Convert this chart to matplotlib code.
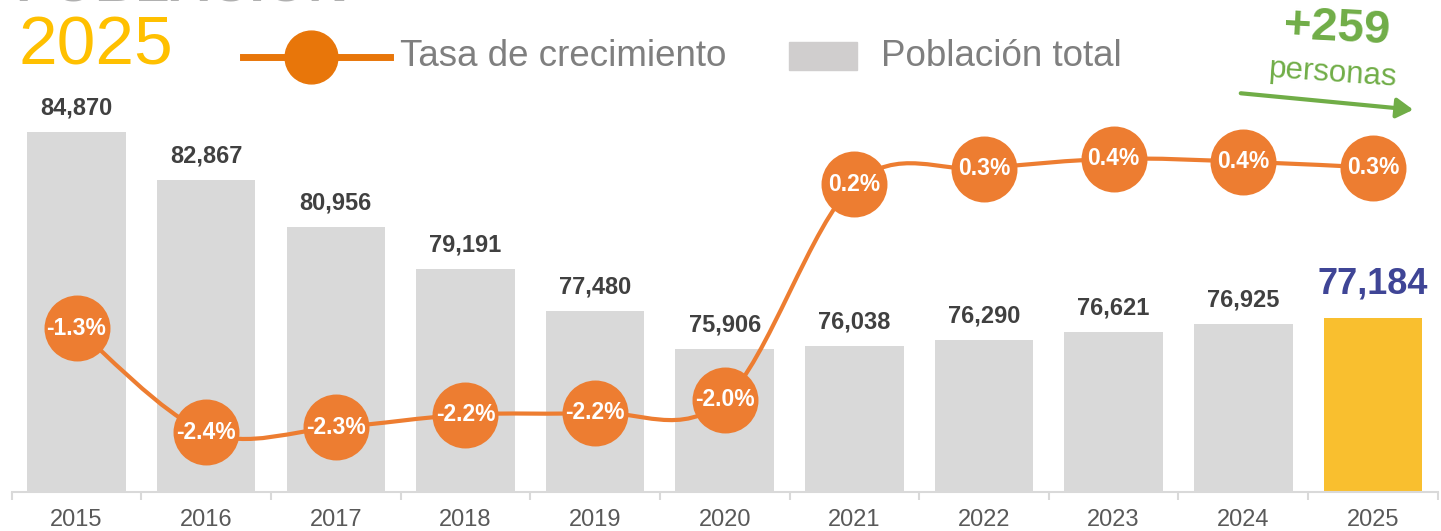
import numpy as np
import matplotlib.pyplot as plt
from matplotlib.path import Path
from matplotlib.patches import PathPatch, Rectangle, FancyArrowPatch
from matplotlib.lines import Line2D

plt.rcParams['font.family'] = ['Liberation Sans', 'DejaVu Sans']

years = ["2015", "2016", "2017", "2018", "2019", "2020",
         "2021", "2022", "2023", "2024", "2025"]
population = [84870, 82867, 80956, 79191, 77480, 75906,
              76038, 76290, 76621, 76925, 77184]
pop_labels = ["84,870", "82,867", "80,956", "79,191", "77,480", "75,906",
              "76,038", "76,290", "76,621", "76,925", "77,184"]
growth = [-1.30, -2.36, -2.31, -2.18, -2.16, -2.03, 0.17, 0.33, 0.43, 0.40, 0.34]
growth_labels = ["-1.3%", "-2.4%", "-2.3%", "-2.2%", "-2.2%", "-2.0%",
                 "0.2%", "0.3%", "0.4%", "0.4%", "0.3%"]

W, H = 1441, 531
fig = plt.figure(figsize=(W / 100, H / 100), dpi=100)


def px(x, y):
    return x / W, 1 - y / H


ax = fig.add_axes([11.7 / W, 39 / H, 1426 / W, 492 / H])
x = np.arange(len(years))
colors = ["#D9D9D9"] * (len(years) - 1) + ["#F9BF2F"]
ax.bar(x, population, width=0.76, color=colors, zorder=1)
ax.set_ylim(70000, 90320)
ax.set_xlim(-0.5, len(years) - 0.5)
for s in ["top", "right", "left"]:
    ax.spines[s].set_visible(False)
ax.spines["bottom"].set_color("#D9D9D9")
ax.spines["bottom"].set_linewidth(1.5)
ax.set_yticks([])
ax.set_xticks(np.arange(-0.5, len(years)), labels=[])
ax.tick_params(axis="x", which="major", length=6, width=1.5, color="#D9D9D9")
ax.set_xticks(x, labels=years, minor=True)
ax.tick_params(axis="x", which="minor", length=0, pad=12.5, labelsize=17,
               labelcolor="#595959")

for i, (v, lab) in enumerate(zip(population, pop_labels)):
    if i == len(population) - 1:
        ax.annotate(lab, (i, v), xytext=(0, 12), textcoords="offset points",
                    ha="center", va="bottom", fontsize=26, fontweight="bold",
                    color="#3F4596")
    else:
        ax.annotate(lab, (i, v), xytext=(0, 9), textcoords="offset points",
                    ha="center", va="bottom", fontsize=17, fontweight="bold",
                    color="#404040")

# growth line on twin axis, smoothed with Catmull-Rom bezier segments
ax2 = ax.twinx()
ax2.set_ylim(-2.97, 2.05)
ax2.axis("off")
g = np.array(growth)
pts = np.column_stack([x, g])
verts = [pts[0]]
codes = [Path.MOVETO]
for i in range(len(pts) - 1):
    p0 = pts[max(i - 1, 0)]
    p1 = pts[i]
    p2 = pts[i + 1]
    p3 = pts[min(i + 2, len(pts) - 1)]
    c1 = p1 + (p2 - p0) / 6
    c2 = p2 - (p3 - p1) / 6
    verts += [c1, c2, p2]
    codes += [Path.CURVE4] * 3
ax2.add_patch(PathPatch(Path(verts, codes), fill=False, edgecolor="#ED7D31",
                        lw=3, capstyle="round", zorder=2))
ax2.plot(x, g, ls="none", marker="o", ms=47.5, mfc="#ED7D31", mec="#ED7D31",
         mew=0, zorder=3)
for i, (v, lab) in enumerate(zip(growth, growth_labels)):
    ax2.text(i, v, lab, ha="center", va="center", fontsize=16.5,
             fontweight="bold", color="white", zorder=4)

# header texts (title is cut off at the top edge, as in the original)
fig.text(*px(15, 1), "POBLACIÓN", fontsize=40, fontweight="bold",
         color="#B0B0B0", va="baseline", ha="left")
fig.text(*px(19, 65), "2025", fontsize=50, color="#FFC000",
         va="baseline", ha="left")

# legend
fig.add_artist(Line2D([px(243, 0)[0], px(390, 0)[0]], [px(0, 57)[1]] * 2,
                      color="#E8760A", lw=5))
fig.add_artist(Line2D([px(311, 0)[0]], [px(0, 57)[1]], marker="o", ms=38,
                      color="#E8760A", ls="none"))
fig.text(*px(400, 57), "Tasa de crecimiento", fontsize=26.5, color="#7F7F7F",
         va="center", ha="left")
fig.add_artist(Rectangle(px(789, 70), 68 / W, 28 / H, color="#D0CECE",
                         transform=fig.transFigure))
fig.text(*px(881, 57), "Población total", fontsize=26.5, color="#7F7F7F",
         va="center", ha="left")

# +259 personas annotation
fig.text(*px(1337, 29), "+259", fontsize=34, fontweight="bold",
         color="#70AD47", ha="center", va="center", rotation=-3)
fig.text(*px(1333, 74), "personas", fontsize=22.5, color="#70AD47",
         ha="center", va="center", rotation=-4)
fig.add_artist(FancyArrowPatch(px(1238, 93), px(1416, 110),
                               transform=fig.transFigure,
                               arrowstyle="-|>,head_length=10,head_width=6",
                               mutation_scale=1, color="#70AD47", lw=3))

fig.savefig("out.png", dpi=100)
